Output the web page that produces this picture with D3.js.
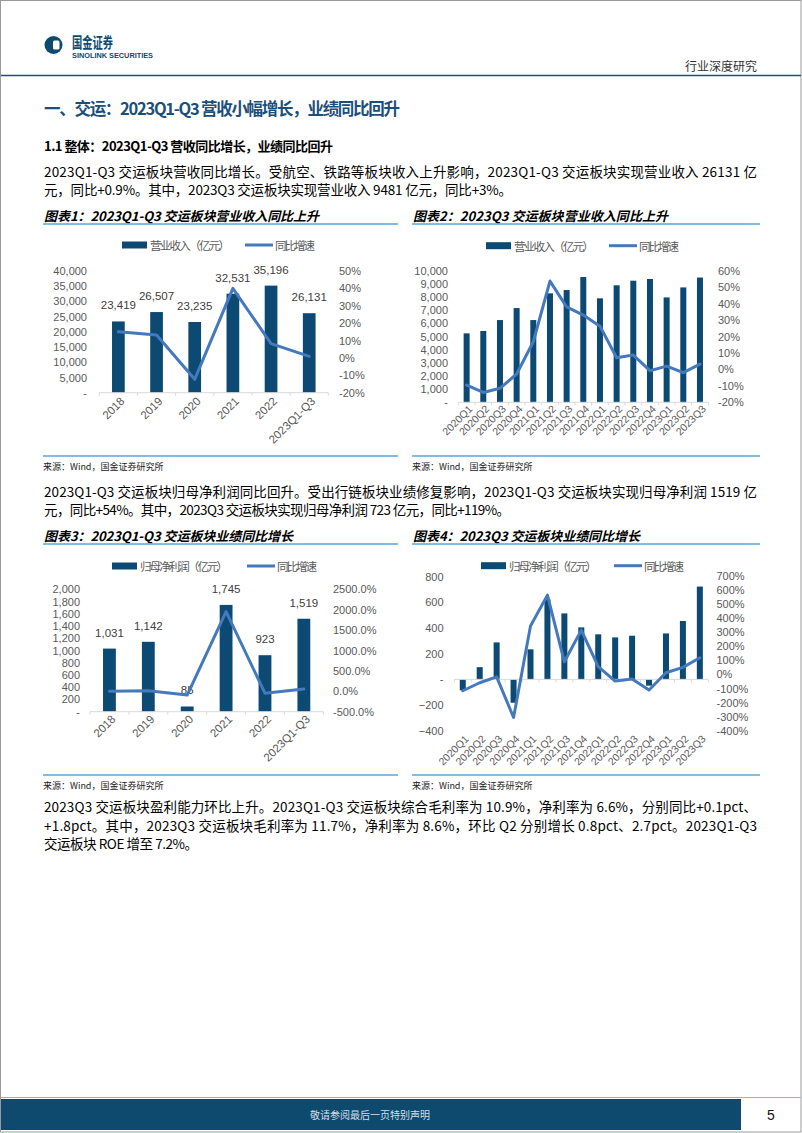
<!DOCTYPE html>
<html><head><meta charset="utf-8">
<script src="https://cdn.jsdelivr.net/npm/d3@7"></script>
<style>body{margin:0;background:#fff}svg{display:block}</style>
</head><body>
<script>
// ---------- data ----------
const yearCats = ["2018","2019","2020","2021","2022","2023Q1-Q3"];
const revenueYear = [23419,26507,23235,32531,35196,26131];
const revenueYearYoy = [15.0,13.2,-12.3,40.0,8.2,0.9];

const quarterCats = ["2020Q1","2020Q2","2020Q3","2020Q4","2021Q1","2021Q2","2021Q3","2021Q4","2022Q1","2022Q2","2022Q3","2022Q4","2023Q1","2023Q2","2023Q3"];
const revenueQuarter = [5240,5420,6250,7160,6250,8280,8530,9520,7900,8890,9240,9370,7970,8730,9481];
const revenueQuarterYoy = [-9.5,-14,-11.5,-2.8,16.8,53.7,38,33,26.3,7.1,8.7,-0.8,2,-2,3.2];

const profitYear = [1031,1142,85,1745,923,1519];
const profitYearYoy = [2,10.8,-92.6,1953,-47.1,54];

const profitQuarter = [-85,95,288,-182,234,623,514,405,351,327,340,-49,358,455,723];
const profitQuarterYoy = [-116,-59,-17,-306,344,564,90,315,55,-47,-33,-111,12,50,119];

const revTicks = d3.range(0,40001,5000);
const revYoyTicks = d3.range(-20,51,10);
const revQTicks = d3.range(0,10001,1000);
const revQYoyTicks = d3.range(-20,61,10);
const profTicks = d3.range(0,2001,200);
const profYoyTicks = d3.range(-500,2501,500);
const profQTicks = d3.range(-400,801,200);
const profQYoyTicks = d3.range(-400,701,100);

// ---------- styles ----------
const BAR = "#0c4a73", LINE = "#4479bd", ACC = "#5aa7d6", DARK = "#0d4a6e";
const CJK = "'Noto Sans CJK SC','Noto Sans',sans-serif";
const LAT = "'Liberation Sans',Arial,sans-serif";
const W = 802, H = 1133;
const svg = d3.select("body").append("svg").attr("width",W).attr("height",H);

function txt(x,y,s,o={}){
  const t = svg.append("text").attr("x",x).attr("y",y).text(s)
    .attr("font-family",o.ff||CJK).attr("font-size",o.fs||13)
    .attr("fill",o.fill||"#000").attr("dominant-baseline","central")
    .attr("text-anchor",o.anchor||"start");
  if(o.fw) t.attr("font-weight",o.fw);
  if(o.italic) t.attr("font-style","italic");
  if(o.len) t.attr("textLength",o.len).attr("lengthAdjust",o.adj||"spacing");
  return t;
}

// ---------- page frame ----------
svg.append("rect").attr("x",0.5).attr("y",0.5).attr("width",W-1.5).attr("height",H-1.5)
  .attr("fill","none").attr("stroke","#9a9a9a");

// header
svg.append("circle").attr("cx",53.5).attr("cy",45).attr("r",9).attr("fill",DARK);
svg.append("rect").attr("x",53).attr("y",40.5).attr("width",6.5).attr("height",9).attr("rx",1.5).attr("fill","#fff");
txt(72,41,"国金证券",{fs:15,fw:700,fill:DARK,len:41,adj:"spacingAndGlyphs"});
txt(72,55.5,"SINOLINK SECURITIES",{ff:LAT,fs:7,fw:700,fill:DARK,len:81,adj:"spacingAndGlyphs"});
txt(757,65,"行业深度研究",{fs:12,fill:"#333",anchor:"end"});
svg.append("line").attr("x1",1).attr("x2",W-1).attr("y1",75.5).attr("y2",75.5).attr("stroke","#2b4d68").attr("stroke-width",1.5);

// headings
txt(44,108,"一、交运：2023Q1-Q3 营收小幅增长，业绩同比回升",{fs:16.5,fw:700,fill:"#1b4f7b",len:356});
txt(44,145,"1.1 整体：2023Q1-Q3 营收同比增长，业绩同比回升",{fs:13,fw:700,len:289});

// paragraphs
txt(44,171,"2023Q1-Q3 交运板块营收同比增长。受航空、铁路等板块收入上升影响，2023Q1-Q3 交运板块实现营业收入 26131 亿",{fs:13.5,len:713});
txt(44,189,"元，同比+0.9%。其中，2023Q3 交运板块实现营业收入 9481 亿元，同比+3%。",{fs:13.5,len:468});
txt(44,491,"2023Q1-Q3 交运板块归母净利润同比回升。受出行链板块业绩修复影响，2023Q1-Q3 交运板块实现归母净利润 1519 亿",{fs:13.5,len:713});
txt(44,509,"元，同比+54%。其中，2023Q3 交运板块实现归母净利润 723 亿元，同比+119%。",{fs:13.5,len:466});
txt(44,806,"2023Q3 交运板块盈利能力环比上升。2023Q1-Q3 交运板块综合毛利率为 10.9%，净利率为 6.6%，分别同比+0.1pct、",{fs:13.5,len:713});
txt(44,825,"+1.8pct。其中，2023Q3 交运板块毛利率为 11.7%，净利率为 8.6%，环比 Q2 分别增长 0.8pct、2.7pct。2023Q1-Q3",{fs:13.5,len:713});
txt(44,843,"交运板块 ROE 增至 7.2%。",{fs:13.5,len:154});

// chart frames
function frame(x0,x1,yT,yB,title,tlen){
  txt(x0+1,yT-9,title,{fs:13,fw:700,italic:true,len:tlen});
  svg.append("line").attr("x1",x0).attr("x2",x1).attr("y1",yT).attr("y2",yT).attr("stroke",ACC).attr("stroke-width",1.5);
  svg.append("line").attr("x1",x0).attr("x2",x1).attr("y1",yB).attr("y2",yB).attr("stroke",ACC).attr("stroke-width",1.5);
  txt(x0,yB+10,"来源：Wind，国金证券研究所",{fs:9,fill:"#222"});
}
frame(43,398,224,456,"图表1：2023Q1-Q3 交运板块营业收入同比上升",275);
frame(412,760,224,456,"图表2：2023Q3 交运板块营业收入同比上升",255);
frame(43,398,544,775,"图表3：2023Q1-Q3 交运板块业绩同比增长",249);
frame(412,760,544,775,"图表4：2023Q3 交运板块业绩同比增长",227);

function legend(o){
  svg.append("rect").attr("x",o.b0).attr("y",o.y-3.5).attr("width",25).attr("height",7).attr("fill",BAR);
  txt(o.b0+28,o.y,o.barName,{fs:11.5,fill:"#595959",len:o.bl});
  svg.append("line").attr("x1",o.l0).attr("x2",o.l0+28).attr("y1",o.y).attr("y2",o.y).attr("stroke",LINE).attr("stroke-width",3);
  txt(o.l0+30,o.y,"同比增速",{fs:11.5,fill:"#595959",len:40});
}

function combo(o){
  const g = svg.append("g");
  const n = o.cats.length;
  const x = d3.scaleBand().domain(o.cats).range([o.x0,o.x1]).paddingInner(o.pad).paddingOuter(o.pad/2);
  const yL = d3.scaleLinear().domain(o.lDom).range([o.yB,o.yT]);
  const yR = d3.scaleLinear().domain(o.rDom).range([o.yB,o.rT]);
  const cx = c => x(c)+x.bandwidth()/2;
  g.selectAll("rect.bar").data(o.bars).join("rect").attr("class","bar")
    .attr("x",(d,i)=>x(o.cats[i])).attr("width",x.bandwidth())
    .attr("y",d=>Math.min(yL(d),yL(0))).attr("height",d=>Math.abs(yL(d)-yL(0)))
    .attr("fill",BAR);
  const y0 = yL(0);
  g.append("line").attr("x1",o.x0).attr("x2",o.x1).attr("y1",y0).attr("y2",y0).attr("stroke","#d9d9d9").attr("stroke-width",1);
  const step = x.step();
  g.selectAll("line.tk").data(d3.range(n+1)).join("line").attr("class","tk")
    .attr("x1",i=>o.x0+step*i).attr("x2",i=>o.x0+step*i).attr("y1",y0).attr("y2",y0+3)
    .attr("stroke","#d9d9d9");
  g.append("g").attr("transform",`translate(${o.lx},0)`)
    .call(d3.axisLeft(yL).tickValues(o.lTicks).tickFormat(o.lFmt).tickSize(0).tickPadding(0))
    .call(a=>{a.select(".domain").remove();a.attr("font-family",LAT).attr("font-size",o.fs);a.selectAll("text").attr("fill","#595959");});
  g.append("g").attr("transform",`translate(${o.rx},0)`)
    .call(d3.axisRight(yR).tickValues(o.rTicks).tickFormat(o.rFmt).tickSize(0).tickPadding(0))
    .call(a=>{a.select(".domain").remove();a.attr("font-family",LAT).attr("font-size",o.fs);a.selectAll("text").attr("fill","#595959");});
  g.append("g").attr("transform",`translate(0,${o.xLabY})`)
    .call(d3.axisBottom(x).tickSize(0).tickPadding(0))
    .call(a=>{a.select(".domain").remove();a.attr("font-family",LAT).attr("font-size",o.xfs);
      a.selectAll("text").attr("fill","#595959").attr("text-anchor","end").attr("x",0).attr("y",0).attr("dy","0.35em")
       .attr("transform",`translate(${o.xdx},0) rotate(-45)`);});
  if(o.labels){
    g.selectAll("text.dl").data(o.bars).join("text").attr("class","dl")
      .attr("x",(d,i)=>cx(o.cats[i])).attr("y",d=>yL(d)-o.lblOff)
      .attr("text-anchor","middle").attr("font-family",LAT).attr("font-size",o.dfs).attr("fill","#404040")
      .text(d=>d3.format(",")(d));
  }
  const ln = d3.line().x((d,i)=>cx(o.cats[i])).y(d=>yR(d));
  g.append("path").datum(o.line).attr("d",ln).attr("fill","none").attr("stroke",LINE)
    .attr("stroke-width",3).attr("stroke-linejoin","round").attr("stroke-linecap","round");
}

const dashZero = f => v => v===0 ? "-" : f(v);

legend({y:245,b0:122,barName:"营业收入（亿元）",bl:80,l0:245});
combo({cats:yearCats,bars:revenueYear,line:revenueYearYoy,x0:99.3,x1:328.3,pad:0.667,
  lDom:[0,40000],yB:392.7,yT:271,rDom:[-20,50],rT:271,
  lTicks:revTicks,lFmt:dashZero(d3.format(",")),rTicks:revYoyTicks,rFmt:v=>v+"%",
  lx:87,rx:339,fs:11,xfs:11.5,xLabY:399,xdx:4,labels:true,dfs:11.5,lblOff:12});

legend({y:245.7,b0:486,barName:"营业收入（亿元）",bl:80,l0:609});
combo({cats:quarterCats,bars:revenueQuarter,line:revenueQuarterYoy,x0:458.3,x1:708.3,pad:0.64,
  lDom:[0,10000],yB:402.3,yT:270.7,rDom:[-20,60],rT:270.7,
  lTicks:revQTicks,lFmt:dashZero(d3.format(",")),rTicks:revQYoyTicks,rFmt:v=>v+"%",
  lx:448,rx:718,fs:11,xfs:10.5,xLabY:407,xdx:4,labels:false});

legend({y:566,b0:112,barName:"归母净利润（亿元）",bl:88,l0:247});
combo({cats:yearCats,bars:profitYear,line:profitYearYoy,x0:90,x1:323.3,pad:0.67,
  lDom:[0,2000],yB:711.7,yT:589.3,rDom:[-500,2500],rT:589.3,
  lTicks:profTicks,lFmt:dashZero(d3.format(",")),rTicks:profYoyTicks,rFmt:v=>v.toFixed(1)+"%",
  lx:80,rx:333,fs:11,xfs:11.5,xLabY:717,xdx:4,labels:true,dfs:11.5,lblOff:12});

legend({y:565.7,b0:481,barName:"归母净利润（亿元）",bl:88,l0:614});
combo({cats:quarterCats,bars:profitQuarter,line:profitQuarterYoy,x0:454.3,x1:708.3,pad:0.645,
  lDom:[-400,800],yB:730.7,yT:576.7,rDom:[-400,700],rT:576,
  lTicks:profQTicks,lFmt:dashZero(d3.format("")),rTicks:profQYoyTicks,rFmt:v=>v+"%",
  lx:443.5,rx:716.5,fs:11,xfs:10.5,xLabY:737,xdx:4,labels:false});

svg.append("line").attr("x1",1).attr("x2",W-1).attr("y1",1097.5).attr("y2",1097.5).attr("stroke","#8db7cf").attr("stroke-width",1);
svg.append("rect").attr("x",1).attr("y",1099).attr("width",740).attr("height",31).attr("fill",DARK);
txt(370,1114.5,"敬请参阅最后一页特别声明",{fs:10,fill:"#d6dee6",anchor:"middle"});
txt(771,1114.5,"5",{ff:LAT,fs:14,fill:"#111",anchor:"middle"});
</script>
</body></html>
